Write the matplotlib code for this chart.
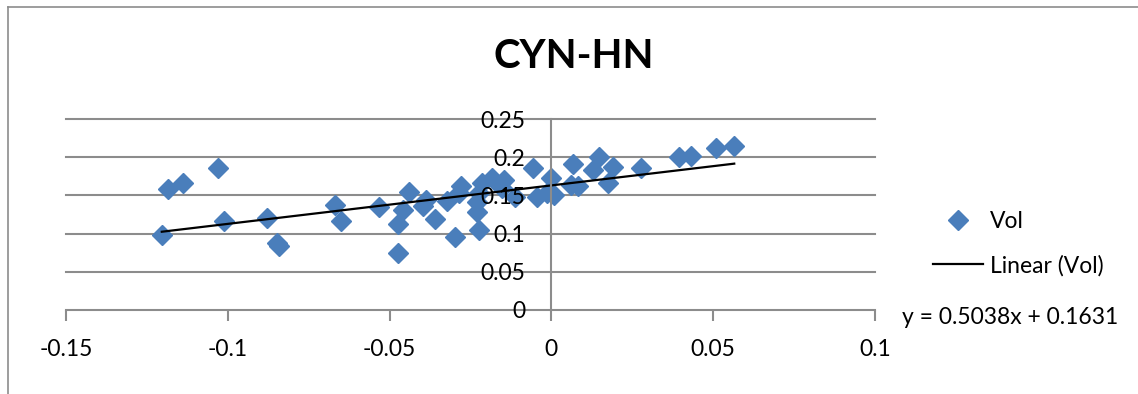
import numpy as np
import matplotlib
matplotlib.use('Agg')
import matplotlib.pyplot as plt
from matplotlib.lines import Line2D
from matplotlib.ticker import FuncFormatter

plt.rcParams['font.family'] = ['Lato', 'DejaVu Sans']

# values
vol_x = [-0.1204, -0.1185, -0.1139, -0.1031, -0.1012, -0.0880, -0.0849, -0.0843,
         -0.0670, -0.0651, -0.0534, -0.0441, -0.0460, -0.0475, -0.0475, -0.0386,
         -0.0398, -0.0361, -0.0324, -0.0299, -0.0278, -0.0287, -0.0231, -0.0225,
         -0.0216, -0.0185, -0.0148, -0.0225, -0.0231, -0.0056, -0.0114, -0.0046,
         -0.0015, -0.0154, 0.0000, 0.0009, 0.0068, 0.0130, 0.0148, 0.0191,
         0.0176, 0.0062, 0.0083, 0.0278, 0.0395, 0.0432, 0.0509, 0.0565]
vol_y = [0.0979, 0.1580, 0.1658, 0.1854, 0.1162, 0.1201, 0.0875, 0.0836,
         0.1371, 0.1162, 0.1345, 0.1540, 0.1305, 0.1123, 0.0744, 0.1436,
         0.1358, 0.1188, 0.1423, 0.0953, 0.1619, 0.1527, 0.1410, 0.1044,
         0.1658, 0.1723, 0.1697, 0.1527, 0.1279, 0.1854, 0.1475, 0.1475,
         0.1527, 0.1593, 0.1723, 0.1501, 0.1906, 0.1828, 0.1997, 0.1867,
         0.1658, 0.1632, 0.1619, 0.1854, 0.1997, 0.2010, 0.2115, 0.2141]
slope = 0.5038
intercept = 0.1631
x_ticks = [-0.15, -0.1, -0.05, 0, 0.05, 0.1]
y_ticks = [0, 0.05, 0.1, 0.15, 0.2, 0.25]

grey = '#8c8c8c'
blue = '#4a7ebb'
W, H = 1138, 394
fs = 16.5

fig = plt.figure(figsize=(W / 100, H / 100), dpi=100)
ax = fig.add_axes([66 / W, 1 - 310 / H, (875 - 66) / W, (310 - 119) / H])

# horizontal gridlines below the points, tick labels above them
for yv in y_ticks[1:]:
    ax.axhline(yv, color=grey, lw=1.5, zorder=0.5, clip_on=False)

ax.plot(vol_x, vol_y, ls='none', marker='D', ms=10, color=blue, mec=blue,
        label='Vol', zorder=2)
tx = np.array([min(vol_x), max(vol_x)])
ax.plot(tx, slope * tx + intercept, color='black', lw=1.6, label='Linear (Vol)',
        zorder=2.1)

ax.set_xlim(-0.15, 0.1)
ax.set_ylim(0, 0.25)
ax.set_xticks(x_ticks)
ax.set_yticks(y_ticks)
fmt = FuncFormatter(lambda v, p: f'{v:g}')
ax.xaxis.set_major_formatter(fmt)
ax.yaxis.set_major_formatter(fmt)
ax.set_axisbelow(False)

ax.spines['top'].set_visible(False)
ax.spines['right'].set_visible(False)
ax.spines['left'].set_position(('data', 0))
ax.spines['left'].set_color(grey)
ax.spines['left'].set_linewidth(1.5)
ax.spines['bottom'].set_color(grey)
ax.spines['bottom'].set_linewidth(1.5)
ax.tick_params(axis='x', direction='out', length=8, width=1.5, color=grey,
               labelsize=fs, pad=13)
ax.tick_params(axis='y', length=0, labelsize=fs, pad=19)

fig.text(574 / W, 1 - 57 / H, 'CYN-HN', ha='center', va='center',
         fontsize=29, fontweight='bold')

ax.legend(loc='center left', bbox_to_anchor=(933 / W, 1 - 243.5 / H),
          bbox_transform=fig.transFigure, frameon=False, fontsize=fs,
          numpoints=1, handlelength=2.2, handletextpad=0.3,
          labelspacing=1.0, borderpad=0, borderaxespad=0)
fig.text(902 / W, 1 - 317 / H, f'y = {slope}x + {intercept}', ha='left',
         va='center', fontsize=fs)

# chart area border (cropped on the right and bottom)
fig.add_artist(Line2D([8 / W, 8 / W], [0, 1 - 7 / H], transform=fig.transFigure,
                      color=grey, lw=1.2))
fig.add_artist(Line2D([8 / W, 1], [1 - 7 / H, 1 - 7 / H], transform=fig.transFigure,
                      color=grey, lw=1.2))

fig.savefig('out.png', dpi=100)
